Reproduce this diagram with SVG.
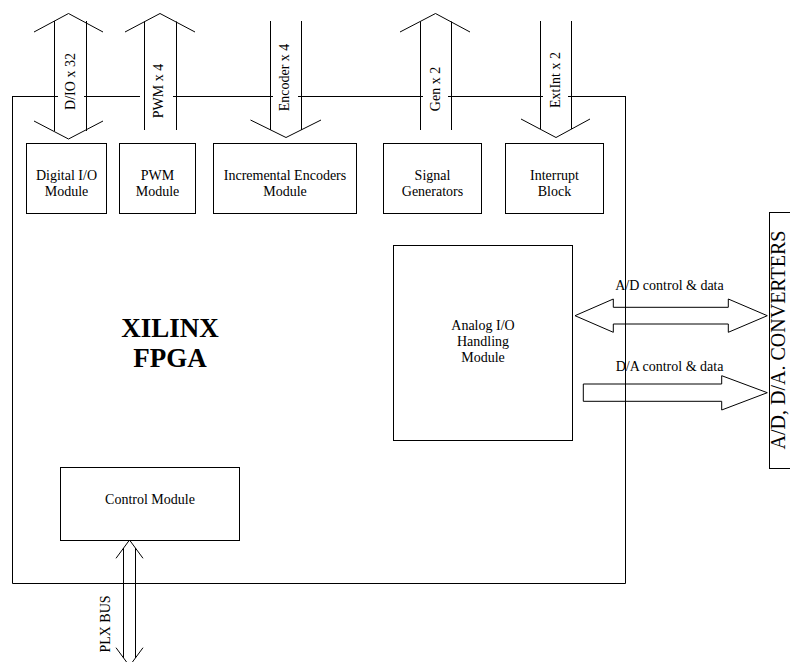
<svg xmlns="http://www.w3.org/2000/svg" width="790" height="662" viewBox="0 0 790 662">
<style>
.ln{fill:none;stroke:#000;stroke-width:1}
.box{fill:#fff;stroke:#000;stroke-width:1}
.t{font-family:"Liberation Serif","Times New Roman",serif;font-size:14px;fill:#000;text-anchor:middle}
.big{font-family:"Liberation Serif","Times New Roman",serif;font-size:27px;font-weight:bold;fill:#000;text-anchor:middle}
</style>
<rect width="790" height="662" fill="#fff"/>
<g id="fpga">
<path class="ln" d="M12.5,96.5H58M84,96.5H140M173,96.5H273M298,96.5H423M448,96.5H543M568,96.5H626M625.5,96V583.5H12.5V96"/>
<text class="big" x="170" y="337">XILINX</text>
<text class="big" x="170" y="367">FPGA</text>
</g>
<g id="digital_io">
<rect class="box" x="26.5" y="143.5" width="80" height="70"/>
<text class="t" x="66.5" y="180">Digital I/O</text>
<text class="t" x="66.5" y="196">Module</text>
</g>
<g id="pwm">
<rect class="box" x="119.5" y="143.5" width="76" height="70"/>
<text class="t" x="157.5" y="180">PWM</text>
<text class="t" x="157.5" y="196">Module</text>
</g>
<g id="encoders">
<rect class="box" x="213.5" y="143.5" width="143" height="70"/>
<text class="t" x="285" y="180">Incremental Encoders</text>
<text class="t" x="285" y="196">Module</text>
</g>
<g id="siggen">
<rect class="box" x="383.5" y="143.5" width="98" height="70"/>
<text class="t" x="432.5" y="180">Signal</text>
<text class="t" x="432.5" y="196">Generators</text>
</g>
<g id="interrupt">
<rect class="box" x="505.5" y="143.5" width="98" height="70"/>
<text class="t" x="554.5" y="180">Interrupt</text>
<text class="t" x="554.5" y="196">Block</text>
</g>
<g id="analog">
<rect class="box" x="393.5" y="245.5" width="179" height="195"/>
<text class="t" x="483" y="330">Analog I/O</text>
<text class="t" x="483" y="346">Handling</text>
<text class="t" x="483" y="362">Module</text>
</g>
<g id="control">
<rect class="box" x="60.5" y="467.5" width="179" height="73"/>
<text class="t" x="150" y="504">Control Module</text>
</g>
<g id="converters">
<rect class="box" x="769.5" y="212.5" width="30" height="256"/>
<text class="t" style="font-size:20px" transform="translate(785,340) rotate(-90)">A/D, D/A. CONVERTERS</text>
</g>
<g id="connectors">
<path class="ln" d="M34,32L68.5,13.5L103,32M54.5,21V131M86.5,21V131M34,121L68.5,139L103,121"/>
<text class="t" transform="translate(75,81.5) rotate(-90)">D/IO x 32</text>
<path class="ln" d="M125,32L160,13.5L195,32M144.5,21.5V130M176.5,21.5V130"/>
<text class="t" transform="translate(163,91) rotate(-90)">PWM x 4</text>
<path class="ln" d="M270.5,21V130M301.5,21V130M250.5,120L286,137.5L321,120"/>
<text class="t" transform="translate(288.5,77.5) rotate(-90)">Encoder x 4</text>
<path class="ln" d="M400,32L435.5,13.5L470,32M420.5,21.5V130M451.5,21.5V130"/>
<text class="t" transform="translate(440,89) rotate(-90)">Gen x 2</text>
<path class="ln" d="M540.5,21V129M571.5,21V129M521,119L556,137.5L590,119"/>
<text class="t" transform="translate(559.5,80) rotate(-90)">ExtInt x 2</text>
<polygon class="ln" points="575,315.7 613.3,299 613.3,307.3 728.3,307.3 728.3,299 767.3,315.7 728.3,332.3 728.3,324 613.3,324 613.3,332.3"/>
<text class="t" x="669.5" y="290">A/D control &amp; data</text>
<polygon class="ln" points="583.3,384 721.7,384 721.7,375.7 767.3,392.7 721.7,410 721.7,401.3 583.3,401.3"/>
<text class="t" x="669.5" y="370.5">D/A control &amp; data</text>
<path class="ln" d="M116,558.3L129.5,540L143,558.3M123.5,548V658M135.5,548V658M116,647.7L129.5,666L143,647.7"/>
<text class="t" transform="translate(110,624) rotate(-90)">PLX BUS</text>
</g>
</svg>
